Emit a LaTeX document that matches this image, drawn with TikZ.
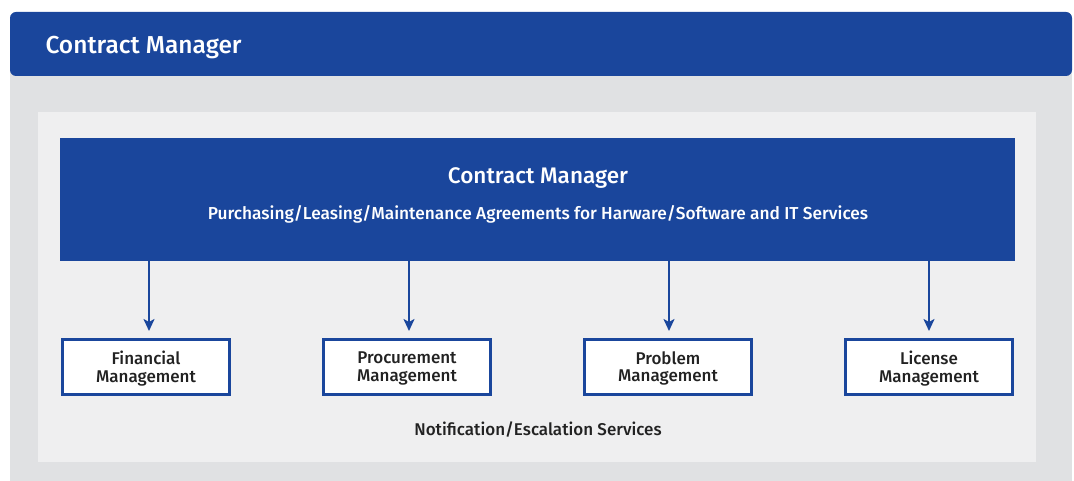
\documentclass[tikz,border=0pt]{standalone}
\usepackage{fontspec}
\setmainfont{Fira Sans}[BoldFont={Fira Sans Medium}]
\usetikzlibrary{arrows.meta}
\definecolor{cmblue}{HTML}{1A469C}
\definecolor{outergray}{HTML}{E0E1E3}
\definecolor{innergray}{HTML}{EFEFF0}
\definecolor{labeltext}{HTML}{222222}
% fixed line height for the two-line module labels
\newcommand\modstrut{\rule[-5pt]{0pt}{13.5pt}}
\newcommand\modlabel[2]{\modstrut#1\\\modstrut#2}
\tikzset{
  module/.style={draw=cmblue, line width=2.2pt, fill=white, minimum width=167pt,
    minimum height=55pt, inner sep=0pt},
  modtext/.style={align=center, text=labeltext, yshift=-2pt, inner sep=0pt,
    font=\fontsize{17}{17.5}\selectfont\bfseries},
  feed/.style={draw=cmblue, line width=2.2pt, -{Stealth[length=12pt,width=11pt,inset=3pt]}},
}
\begin{document}
\begin{tikzpicture}[x=1pt,y=-1pt]
\useasboundingbox (0,0) rectangle (1074,481);
% outer panel
\fill[outergray] (10,70) rectangle (1072,481);
\fill[cmblue, rounded corners=6pt] (10,12) rectangle (1072,76);
\node[anchor=west, text=white, font=\fontsize{24.5}{28}\selectfont\bfseries] (hdr) at (42,47.5) {Contract Manager};
% inner panel
\fill[innergray] (38,112) rectangle (1036,462);
% central block
\node[fill=cmblue, minimum width=955pt, minimum height=123pt, inner sep=0pt, anchor=north west] (cm) at (60,138) {};
\node[text=white, font=\fontsize{22.5}{26}\selectfont\bfseries] (cmtitle) at (538,178.5) {Contract Manager};
\node[text=white, font=\fontsize{17.3}{20}\selectfont\bfseries] (cmsub) at (538,214.5) {Purchasing/Leasing/Maintenance Agreements for Harware/Software and IT Services};
% modules
\node[module] (fin) at (146,367) {};
\node[module] (proc) at (407,367) {};
\node[module] (prob) at (668,367) {};
\node[module] (lic) at (929,367) {};
\node[modtext] (fin-t) at (fin) {\modlabel{Financial}{Management}};
\node[modtext] (proc-t) at (proc) {\modlabel{Procurement}{Management}};
\node[modtext] (prob-t) at (prob) {\modlabel{Problem}{Management}};
\node[modtext] (lic-t) at (lic) {\modlabel{License}{Management}};
% connectors
\foreach \m/\x in {fin/149, proc/409, prob/669, lic/929}{
  \coordinate (src-\m) at (\x,261);
  \coordinate (dst-\m) at (\x,331);
  \draw[feed] (src-\m) -- (dst-\m);
}
\node[text=labeltext, font=\fontsize{17}{20}\selectfont\bfseries] (notif) at (538,430) {Notification/Escalation Services};
\end{tikzpicture}
\end{document}
